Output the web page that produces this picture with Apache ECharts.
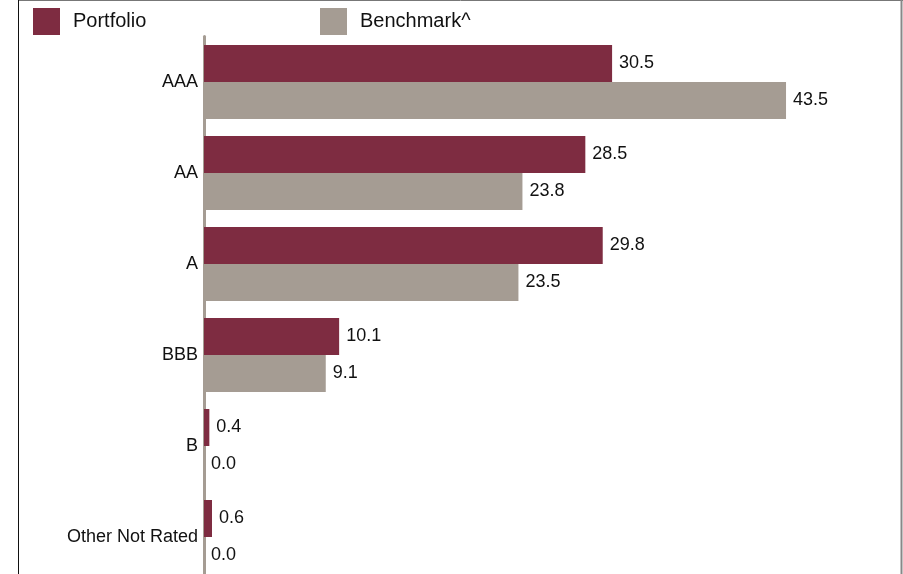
<!DOCTYPE html>
<html>
<head>
<meta charset="utf-8">
<script src="https://cdn.jsdelivr.net/npm/echarts@6/dist/echarts.min.js"></script>
<style>
html,body{margin:0;padding:0;background:#fff;}
#chart{width:903px;height:574px;}
</style>
</head>
<body>
<div id="chart"></div>
<script>
var categories = ['AAA', 'AA', 'A', 'BBB', 'B', 'Other Not Rated'];
var portfolio = [30.5, 28.5, 29.8, 10.1, 0.4, 0.6];
var benchmark = [43.5, 23.8, 23.5, 9.1, 0.0, 0.0];
var seriesNames = ['Portfolio', 'Benchmark^'];

var FONT = '"Liberation Sans", Arial, sans-serif';
var chart = echarts.init(document.getElementById('chart'), null, {renderer: 'canvas'});

function labelCfg() {
  return {
    show: true,
    position: 'right',
    distance: 7,
    color: '#111',
    fontFamily: FONT,
    fontSize: 18,
    formatter: function (p) { return Number(p.value).toFixed(1); }
  };
}

var option = {
  animation: false,
  backgroundColor: '#fff',
  legend: [
    {
      data: [seriesNames[0]], left: 28, top: 3, itemWidth: 27, itemHeight: 27,
      icon: 'rect', selectedMode: false,
      textStyle: {fontFamily: FONT, fontSize: 20, color: '#111', padding: [2, 0, 0, 8]}
    },
    {
      data: [seriesNames[1]], left: 315, top: 3, itemWidth: 27, itemHeight: 27,
      icon: 'rect', selectedMode: false,
      textStyle: {fontFamily: FONT, fontSize: 20, color: '#111', padding: [2, 0, 0, 8]}
    }
  ],
  grid: {left: 204, top: 36.5, width: 669, height: 546, containLabel: false, outerBoundsMode: 'none'},
  xAxis: {
    type: 'value', min: 0, max: 50,
    show: false,
    splitLine: {show: false}
  },
  yAxis: {
    type: 'category',
    data: categories,
    inverse: true,
    axisLine: {show: true, lineStyle: {color: '#a59c93', width: 3}},
    axisTick: {show: false},
    axisLabel: {fontFamily: FONT, fontSize: 18, color: '#111', margin: 6}
  },
  series: [
    {
      name: seriesNames[0], type: 'bar', data: portfolio,
      barWidth: 37, barGap: '0%',
      itemStyle: {color: '#7e2c41'},
      label: labelCfg()
    },
    {
      name: seriesNames[1], type: 'bar', data: benchmark,
      barWidth: 37, barGap: '0%',
      itemStyle: {color: '#a59c93'},
      label: labelCfg()
    }
  ],
  graphic: [
    {type: 'line', shape: {x1: 18, y1: 0.5, x2: 903, y2: 0.5}, style: {stroke: '#777', lineWidth: 1}},
    {type: 'line', shape: {x1: 18.5, y1: 0, x2: 18.5, y2: 574}, style: {stroke: '#111', lineWidth: 1}},
    {type: 'line', shape: {x1: 901.5, y1: 0, x2: 901.5, y2: 574}, style: {stroke: '#888', lineWidth: 2}}
  ]
};
chart.setOption(option);
</script>
</body>
</html>
